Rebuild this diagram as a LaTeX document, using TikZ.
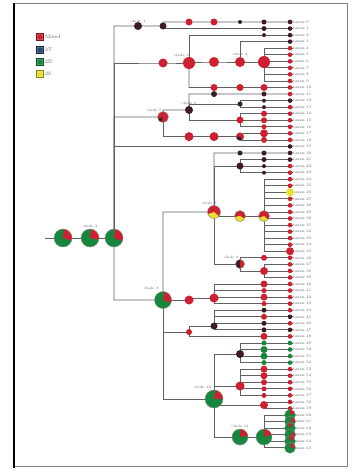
\documentclass[tikz,border=0pt]{standalone}
\usepackage{tikz}
\usepackage{amsmath}
\usetikzlibrary{positioning}

\definecolor{pred}{RGB}{205,32,48}
\definecolor{pgreen}{RGB}{22,135,60}
\definecolor{pdark}{RGB}{62,28,38}
\definecolor{pyellow}{RGB}{232,222,45}
\definecolor{pblue}{RGB}{42,72,118}

% one-colour marker and two-colour pie at a named point
\newcommand{\nodedot}[3]{\fill[#3] (#1) circle (#2);}
\newcommand{\nodepie}[6]{%
  \fill[#3] (#1) circle (#2);
  \fill[#4] (#1) -- ++(#5:#2) arc (#5:#6:#2) -- cycle;
  \draw[black!45, line width=0.5pt] (#1) circle (#2);}

\begin{document}
\begin{tikzpicture}[scale=0.05,
  branch/.style={draw=black!62, line width=1.1pt},
  leaf/.style={anchor=west, font=\fontsize{5.5}{6}\selectfont, text=black!65},
  clade/.style={font=\fontsize{5}{5.5}\selectfont, text=black!65},
  legbox/.style={minimum size=10pt, inner sep=0pt},
  legtext/.style={font=\fontsize{7.5}{8}\selectfont, text=black!65}]
\tikzstyle{every node}+=[inner sep=0pt]
\useasboundingbox (0,0) rectangle (354,-472);

% frame
\draw [black!50, line width=1.2pt] (14,-3) -- (347,-3) -- (347,-466) -- (14,-466);
\draw [black, line width=1.5pt] (14,-3) -- (14,-468);

% leaves
\foreach \k in {0,...,65}
  \node [leaf] (l\k) at (293,{-22-6.55*\k}) {taxon \k};

% root
\coordinate (r0) at (45,-238);
\coordinate (r1) at (63,-238);
\coordinate (r2) at (90,-238);
\coordinate (r3) at (114,-238);
% clade a
\coordinate (a1) at (138,-26);
\coordinate (a2) at (163,-26);
\coordinate (a3) at (189,0 |- l0.west);
\coordinate (a4) at (214,0 |- l0.west);
\coordinate (a5) at (240,0 |- l0.west);
% clade b
\coordinate (b1) at (163,-63);
\coordinate (b2) at (189,-63);
\coordinate (b3) at (214,-62);
\coordinate (b4) at (240,-62);
\coordinate (b5) at (264,-62);
\coordinate (b6) at (214,0 |- l10.west);
\coordinate (b7) at (240,0 |- l10.west);
% clade c
\coordinate (c1) at (163,-117);
\coordinate (c2) at (189,-110);
\coordinate (c3) at (214,0 |- l11.west);
\coordinate (c4) at (240,-104);
\coordinate (c5) at (240,-120);
\coordinate (c6) at (189,-136.6);
\coordinate (c7) at (214,-136.6);
\coordinate (c8) at (240,-136.6);
% clade f
\coordinate (f) at (163,-300);
\coordinate (g) at (214,-212);
\coordinate (g1) at (240,0 |- l20.west);
\coordinate (g2) at (240,-166);
\coordinate (g3) at (240,-216);
\coordinate (g4) at (264,-216);
\coordinate (g5) at (240,-264);
\coordinate (g6) at (264,-271);
\coordinate (h1) at (189,-300);
\coordinate (h2) at (214,-298);
\coordinate (h3) at (189,-332);
\coordinate (h4) at (214,-326);
\coordinate (i) at (214,-399);
\coordinate (i1) at (240,-354);
\coordinate (i2) at (240,-386);
\coordinate (i6) at (264,-405);
\coordinate (i3) at (240,-437);
\coordinate (i4) at (264,-437);

% branches
\draw [branch] (r0) -- (r1) -- (r2) -- (r3);
\draw [branch] (r3) |- (a1) -- (a2) |- (a3) -- (a4) -- (a5) -- (l0.west);
\draw [branch] (a2) |- (l1.west);
\draw [branch] (r3) |- (b1) -- (b2) |- (l2.west);
\draw [branch] (b2) |- (b3) -- (b4) |- (l3.west);
\draw [branch] (b4) -- (b5);
\foreach \k in {4,...,9} \draw [branch] (b5) |- (l\k.west);
\draw [branch] (b2) |- (b6) -- (b7) -- (l10.west);
\draw [branch] (r3) |- (c1) |- (c2) |- (c3) -- (l11.west);
\draw [branch] (c2) |- (c4) |- (l12.west);
\draw [branch] (c4) |- (l13.west);
\draw [branch] (c2) |- (c5);
\foreach \k in {14,15,16} \draw [branch] (c5) |- (l\k.west);
\draw [branch] (c1) |- (c6) -- (c7) -- (c8) |- (l17.west);
\draw [branch] (c8) |- (l18.west);
\draw [branch] (r3) |- (l19.west);
\draw [branch] (r3) |- (f) |- (g) |- (g1) -- (l20.west);
\draw [branch] (g) |- (g2);
\foreach \k in {21,22,23} \draw [branch] (g2) |- (l\k.west);
\draw [branch] (g) |- (g3) -- (g4);
\foreach \k in {24,...,35} \draw [branch] (g4) |- (l\k.west);
\draw [branch] (g) |- (g5) |- (l36.west);
\draw [branch] (g5) |- (g6);
\foreach \k in {37,38,39} \draw [branch] (g6) |- (l\k.west);
\draw [branch] (f) -- (h1) |- (h2);
\foreach \k in {40,...,43} \draw [branch] (h2) |- (l\k.west);
\draw [branch] (f) |- (h3) |- (h4);
\foreach \k in {44,...,47} \draw [branch] (h4) |- (l\k.west);
\draw [branch] (h3) |- (l48.west);
\draw [branch] (f) |- (i) |- (i1);
\foreach \k in {49,...,52} \draw [branch] (i1) |- (l\k.west);
\draw [branch] (i) |- (i2);
\foreach \k in {53,...,57} \draw [branch] (i2) |- (l\k.west);
\draw [branch] (i) |- (i6);
\foreach \k in {58,59} \draw [branch] (i6) |- (l\k.west);
\draw [branch] (i) |- (i3) -- (i4);
\foreach \k in {60,...,65} \draw [branch] (i4) |- (l\k.west);

% markers on the leaf rows
\foreach \k/\c/\s in {0/pdark/2.5,1/pdark/2.5,2/pdark/2,10/pred/3.5,11/pdark/2.5,
    12/pdark/2,13/pdark/2,14/pred/3,15/pred/3,16/pred/2.5,17/pred/4,18/pred/3,
    20/pdark/2.5,21/pdark/2.5,22/pdark/2,23/pdark/2,36/pred/3,40/pred/3.5,
    41/pred/2.5,42/pred/3.5,43/pred/2.5,44/pdark/2.5,45/pred/3,46/pdark/2.5,
    47/pdark/2.5,48/pred/3.5,49/pgreen/2.5,50/pgreen/3.5,51/pgreen/3.5,
    52/pgreen/2.5,53/pred/3.5,54/pred/3.5,55/pred/3,56/pred/2.5,57/pred/2.5}
  \fill [\c] (264,0 |- l\k.west) circle (\s);
\foreach \k/\c in {0/pdark,1/pdark,2/pdark,3/pdark,4/pred,5/pred,6/pred,7/pred,
    8/pred,9/pred,10/pred,11/pred,12/pdark,13/pred,14/pred,15/pred,16/pred,
    17/pred,18/pred,19/pdark,20/pdark,21/pdark,22/pred,23/pred,24/pred,25/pred,
    27/pred,28/pred,29/pred,30/pred,31/pred,32/pred,33/pred,34/pred,36/pred,
    37/pred,38/pred,39/pred,40/pred,41/pred,42/pred,43/pred,44/pred,45/pdark,
    46/pred,47/pdark,48/pred,49/pgreen,50/pgreen,51/pgreen,52/pgreen,53/pred,
    54/pred,55/pred,56/pred,57/pred,58/pred,59/pred}
  \fill [\c] (290,0 |- l\k.west) circle (2.3);
\fill [pyellow] (290,0 |- l26.west) circle (4);
\fill [pred] (290,0 |- l35.west) circle (4);
\foreach \k/\a in {60/90,61/60,62/120,63/30,64/100,65/70} {
  \nodepie{290,0 |- l\k.west}{5.5}{pgreen}{pred}{\a}{\a-60}
}

% pies at the inner nodes
\nodepie{r1}{9}{pgreen}{pred}{85}{-15}
\nodepie{r2}{9}{pgreen}{pred}{85}{-10}
\nodepie{r3}{9}{pgreen}{pred}{85}{-20}
\nodedot{a1}{4}{pdark}
\nodedot{a2}{3.5}{pdark}
\nodedot{a3}{3.5}{pred}
\nodedot{a4}{3.5}{pred}
\nodedot{a5}{2}{pdark}
\nodedot{b1}{4.5}{pred}
\nodedot{b2}{6}{pred}
\nodedot{b3}{5}{pred}
\nodedot{b4}{5}{pred}
\nodedot{b5}{6}{pred}
\nodedot{b6}{3.5}{pred}
\nodedot{b7}{3.5}{pred}
\nodepie{c1}{5.5}{pred}{pdark}{200}{250}
\nodedot{c2}{4}{pdark}
\nodedot{c3}{3}{pdark}
\nodedot{c4}{2.5}{pdark}
\nodedot{c5}{3.5}{pred}
\nodedot{c6}{4.5}{pred}
\nodedot{c7}{4.5}{pred}
\nodepie{c8}{4}{pred}{pdark}{180}{300}
\nodepie{f}{8.5}{pgreen}{pred}{80}{-20}
\nodepie{g}{6.5}{pred}{pyellow}{200}{320}
\nodedot{g1}{2.5}{pdark}
\nodedot{g2}{3.5}{pdark}
\nodepie{g3}{5.5}{pred}{pyellow}{190}{330}
\nodepie{g4}{5.5}{pred}{pyellow}{200}{320}
\nodepie{g5}{4.5}{pred}{pdark}{90}{270}
\nodedot{g6}{4}{pred}
\nodedot{h1}{4.5}{pred}
\nodedot{h2}{4.5}{pred}
\nodedot{h3}{3}{pred}
\nodedot{h4}{3.5}{pdark}
\nodepie{i}{9}{pgreen}{pred}{80}{0}
\nodedot{i1}{4}{pdark}
\nodedot{i2}{4.5}{pred}
\nodedot{i6}{4}{pred}
\nodepie{i3}{8}{pgreen}{pred}{90}{10}
\nodepie{i4}{8}{pgreen}{pred}{90}{20}

% clade names
\node [clade, above=5pt of a1] (ta1) {clade 1};
\node [clade, above=14pt of r2] (tr2) {clade 2};
\node [clade, above left=9pt and 0pt of b2] (tb2) {clade 3};
\node [clade, above=9pt of b4] (tb4) {clade 4};
\node [clade, above left=8pt and 2pt of c1] (tc1) {clade 5};
\node [clade, above=7pt of c2] (tc2) {clade 6};
\node [clade, above left=11pt and -4pt of g] (tg) {clade 7};
\node [clade, above left=14pt and 6pt of f] (tf) {clade 8};
\node [clade, above left=8pt and 2pt of g5] (tg5) {clade 9};
\node [clade, above left=14pt and 4pt of i] (ti) {clade 10};
\node [clade, above=13pt of i3] (ti3) {clade 11};

% legend
\foreach \n/\c/\t/\yy in {1/pred/Mixed/37,2/pblue/2T/50,3/pgreen/2D/62,4/pyellow/2S/74} {
  \node [legbox, fill=\c!75, draw=\c!60!black] (lg\n) at (40,-\yy) {};
  \fill [\c] (lg\n) circle (2.6);
  \node [legtext, anchor=west, right=2pt of lg\n] (lt\n) {\t};
}
\end{tikzpicture}
\end{document}
